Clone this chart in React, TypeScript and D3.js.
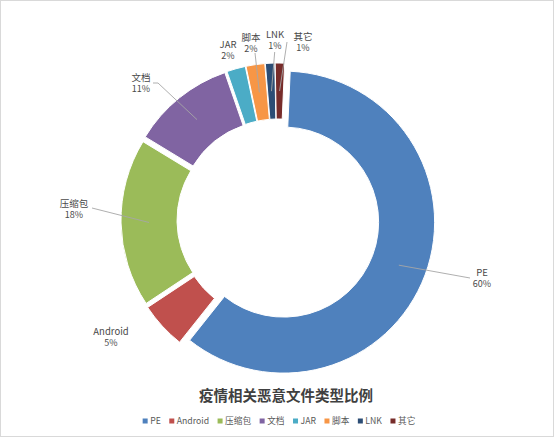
import React, { useEffect, useRef } from "react";
import * as d3 from "d3";

const categories = ["PE", "Android", "压缩包", "文档", "JAR", "脚本", "LNK", "其它"];
const values = [60, 5, 18, 11, 2, 2, 1, 1];
const percentLabels = ["60%", "5%", "18%", "11%", "2%", "2%", "1%", "1%"];
const colors = ["#4F81BD", "#C0504D", "#9BBB59", "#8064A2", "#4BACC6", "#F79646", "#2C4D75", "#772C2A"];
const title = "疫情相关恶意文件类型比例";

// label layout relative to the donut centre (text centre x, first line centre y, leader start)
const labelLayout = [
  { dx: 204, dy: 52, lx: 192, ly: 58 },
  { dx: -167, dy: 111, lx: null, ly: null },
  { dx: -204, dy: -17, lx: -186, ly: -12 },
  { dx: -137, dy: -143, lx: -125, ly: -137, elbow: 5 },
  { dx: -50, dy: -176, lx: null, ly: null },
  { dx: -27, dy: -183, lx: -23, ly: -167 },
  { dx: -3, dy: -186, lx: -3.3, ly: -168 },
  { dx: 25, dy: -184, lx: 9, ly: -178 },
];

const W = 554;
const H = 437;

export default function App() {
  const ref = useRef<SVGSVGElement>(null);
  useEffect(() => {
    const svg = d3.select(ref.current);
    svg.selectAll("*").remove();
    const cx = 278, cy = 220, ro = 151, ri = 95, explode = 6;
    const rot = (2.5 * Math.PI) / 180;
    const font = "'Noto Sans CJK SC', 'Noto Sans', sans-serif";

    svg.append("rect").attr("x", 0.5).attr("y", 0.5).attr("width", W - 1).attr("height", H - 1)
      .attr("fill", "#fff").attr("stroke", "#d9d9d9");

    const data = categories.map((c, i) => ({ c, v: values[i], i }));
    const pie = d3.pie<any>().sort(null).value((d: any) => d.v)
      .startAngle(rot).endAngle(rot + 2 * Math.PI);
    const arcs = pie(data);
    const arc = d3.arc<any>().innerRadius(ri).outerRadius(ro);
    const g = svg.append("g").attr("transform", `translate(${cx},${cy})`);

    const off = (a: any, r: number) => {
      const m = (a.startAngle + a.endAngle) / 2;
      return [Math.sin(m) * r, -Math.cos(m) * r];
    };

    g.selectAll("path.slice").data(arcs).enter().append("path")
      .attr("class", "slice")
      .attr("d", arc as any)
      .attr("fill", (d: any) => colors[d.data.i])
      .attr("stroke", "#fff").attr("stroke-width", 1)
      .attr("transform", (d: any) => {
        const [x, y] = off(d, explode);
        return `translate(${x},${y})`;
      });

    // leader lines and labels
    arcs.forEach((a: any, i: number) => {
      const L = labelLayout[i];
      if (L.lx !== null) {
        const [px, py] = off(a, (ri + ro) / 2 + explode);
        const pts: [number, number][] = [[L.lx, L.ly]];
        if (L.elbow) pts.push([L.lx + L.elbow, L.ly]);
        pts.push([px, py]);
        g.append("path").attr("d", d3.line()(pts) as string).attr("fill", "none")
          .attr("stroke", "#a6a6a6").attr("stroke-width", 0.9);
      }
      const t = g.append("text").attr("x", L.dx).attr("text-anchor", "middle")
        .attr("font-family", font).attr("font-size", 9.5).attr("fill", "#4a4a4a");
      t.append("tspan").attr("x", L.dx).attr("y", L.dy + 3.5).text(categories[i]);
      t.append("tspan").attr("x", L.dx).attr("y", L.dy + 15).attr("font-size", 9).text(percentLabels[i]);
    });

    svg.append("text").attr("x", 286).attr("y", 401).attr("text-anchor", "middle")
      .attr("font-family", "'Noto Sans CJK SC', serif").attr("font-weight", "bold")
      .attr("font-size", 14.5).attr("fill", "#404040").text(title);

    // legend
    const lg = svg.append("g");
    let x = 0;
    categories.forEach((c, i) => {
      const it = lg.append("g");
      it.append("rect").attr("x", x).attr("y", -2.5).attr("width", 5).attr("height", 5).attr("fill", colors[i]);
      const tx = it.append("text").attr("x", x + 7.5).attr("y", 3.3).attr("font-family", font)
        .attr("font-size", 8.7).attr("fill", "#595959").text(c);
      const w = (tx.node() as SVGTextElement).getComputedTextLength();
      x += 7.5 + w + 8.5;
    });
    const total = x - 8.5;
    lg.attr("transform", `translate(${279 - total / 2},421)`);
  }, []);
  return (
    <svg ref={ref} width={W} height={H} style={{ position: "absolute", left: 0, top: 0 }} />
  );
}
